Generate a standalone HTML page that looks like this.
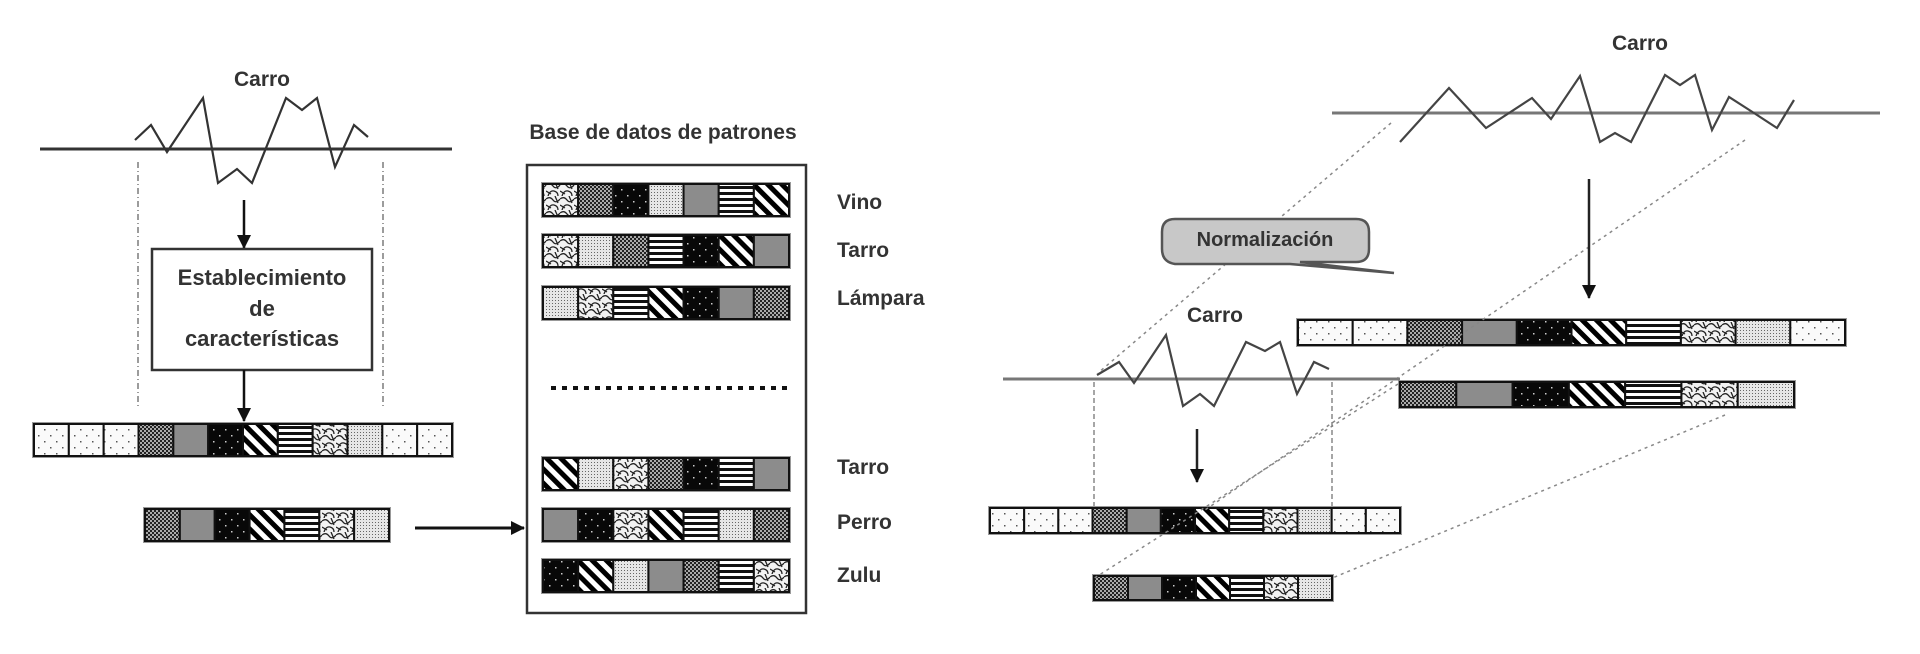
<!DOCTYPE html>
<html><head><meta charset="utf-8"><style>
html,body{margin:0;padding:0;background:#fff;}
svg{display:block;}
text{font-family:"Liberation Sans Narrow","Liberation Sans",sans-serif;font-weight:bold;fill:#333;}
</style></head><body>
<svg id="s" width="1920" height="654" viewBox="0 0 1920 654" xmlns="http://www.w3.org/2000/svg">
<defs>
<pattern id="pd" width="12" height="12" patternUnits="userSpaceOnUse"><rect width="12" height="12" fill="#fafafa"/><rect x="2" y="3" width="1.5" height="1.5" fill="#555"/><rect x="8" y="9" width="1.5" height="1.5" fill="#555"/></pattern>
<pattern id="pk" width="4" height="4" patternUnits="userSpaceOnUse"><rect width="4" height="4" fill="#aaa"/><rect width="2" height="2" fill="#222"/><rect x="2" y="2" width="2" height="2" fill="#222"/></pattern>
<pattern id="pg" width="4" height="4" patternUnits="userSpaceOnUse"><rect width="4" height="4" fill="#8c8c8c"/></pattern>
<pattern id="pb" width="12" height="12" patternUnits="userSpaceOnUse"><rect width="12" height="12" fill="#080808"/><rect x="3" y="3" width="1.5" height="1.5" fill="#ccc"/><rect x="9" y="9" width="1.5" height="1.5" fill="#ccc"/></pattern>
<pattern id="ps" width="10" height="10" patternUnits="userSpaceOnUse" patternTransform="rotate(-45)"><rect width="10" height="10" fill="#fff"/><rect width="5" height="10" fill="#000"/></pattern>
<pattern id="ph" width="6" height="6" patternUnits="userSpaceOnUse"><rect width="6" height="6" fill="#fff"/><rect width="6" height="3" fill="#111"/></pattern>
<pattern id="pc" width="14" height="14" patternUnits="userSpaceOnUse"><rect width="14" height="14" fill="#f2f2f2"/><path d="M0 3 Q4 0 7 4 T14 3 M2 14 Q4 8 8 9 T12 14 M0 9 L5 12 M9 0 L12 7" stroke="#222" stroke-width="1.3" fill="none"/></pattern>
<pattern id="pf" width="3" height="3" patternUnits="userSpaceOnUse"><rect width="3" height="3" fill="#e6e6e6"/><rect width="1" height="1" fill="#666"/></pattern>
<marker id="ah" markerWidth="14" markerHeight="14" refX="13" refY="7" orient="auto" markerUnits="userSpaceOnUse"><path d="M0 0 L14 7 L0 14 Z" fill="#111"/></marker>
</defs>
<g id="bars"></g>

<!-- LEFT -->
<text x="262" y="86" font-size="21" text-anchor="middle">Carro</text>
<line x1="40" y1="149" x2="452" y2="149" stroke="#333" stroke-width="3"/>
<polyline points="135,140 151,125 167,152 203,98 218,183 237,169 252,183 286,98 302,110 317,98 335,167 354,125 368,137" fill="none" stroke="#333" stroke-width="2.2"/>
<line x1="138" y1="162" x2="138" y2="406" stroke="#666" stroke-width="1.3" stroke-dasharray="6,3,1,3"/>
<line x1="383" y1="162" x2="383" y2="406" stroke="#666" stroke-width="1.3" stroke-dasharray="6,3,1,3"/>
<line x1="244" y1="200" x2="244" y2="248" stroke="#111" stroke-width="2.5" marker-end="url(#ah)"/>
<rect x="152" y="249" width="220" height="121" fill="#fff" stroke="#333" stroke-width="2.5"/>
<text x="262" y="285" font-size="22" text-anchor="middle">Establecimiento</text>
<text x="262" y="316" font-size="22" text-anchor="middle">de</text>
<text x="262" y="346" font-size="22" text-anchor="middle">características</text>
<line x1="244" y1="370" x2="244" y2="421" stroke="#111" stroke-width="2.5" marker-end="url(#ah)"/>
<line x1="415" y1="528" x2="524" y2="528" stroke="#111" stroke-width="3" marker-end="url(#ah)"/>
<text x="663" y="139" font-size="21" text-anchor="middle">Base de datos de patrones</text>
<rect x="527" y="165" width="279" height="448" fill="none" stroke="#333" stroke-width="2.5"/>
<line x1="551" y1="388" x2="789" y2="388" stroke="#111" stroke-width="4" stroke-dasharray="5,6"/>
<text x="837" y="209" font-size="21">Vino</text>
<text x="837" y="257" font-size="21">Tarro</text>
<text x="837" y="305" font-size="21">Lámpara</text>
<text x="837" y="474" font-size="21">Tarro</text>
<text x="837" y="529" font-size="21">Perro</text>
<text x="837" y="582" font-size="21">Zulu</text>

<!-- RIGHT -->
<text x="1640" y="50" font-size="21" text-anchor="middle">Carro</text>
<line x1="1332" y1="113" x2="1880" y2="113" stroke="#777" stroke-width="3"/>
<polyline points="1400,142 1449,88 1486,128 1532,98 1551,119 1580,76 1600,142 1615,133 1631,142 1665,75 1680,85 1695,75 1712,130 1729,97 1754,113 1777,128 1794,100" fill="none" stroke="#444" stroke-width="2.2"/>
<g stroke="#888" stroke-width="1.5" stroke-dasharray="3,4" fill="none">
<line x1="1391" y1="123" x2="1098" y2="373"/>
<line x1="1745" y1="140" x2="1205" y2="510"/>
<line x1="1398" y1="384" x2="1093" y2="579"/>
<line x1="1725" y1="415" x2="1330" y2="579"/>
</g>
<line x1="1589" y1="179" x2="1589" y2="298" stroke="#222" stroke-width="2.5" marker-end="url(#ah)"/>
<path d="M1175 219 H1356 Q1369 219 1369 232 V249 Q1369 262 1356 262 H1300 L1394 273 L1290 264 H1175 Q1162 262 1162 249 V232 Q1162 219 1175 219 Z" fill="#c8c8c8" stroke="#555" stroke-width="2.5"/>
<text x="1265" y="246" font-size="20" text-anchor="middle">Normalización</text>
<text x="1215" y="322" font-size="21" text-anchor="middle">Carro</text>
<line x1="1003" y1="379" x2="1400" y2="379" stroke="#777" stroke-width="3"/>
<polyline points="1097,375 1119,362 1134,383 1166,335 1183,406 1200,394 1214,406 1246,342 1265,351 1280,342 1297,394 1314,362 1329,369" fill="none" stroke="#444" stroke-width="2.2"/>
<line x1="1094" y1="382" x2="1094" y2="506" stroke="#777" stroke-width="1.3" stroke-dasharray="5,3"/>
<line x1="1332" y1="382" x2="1332" y2="506" stroke="#777" stroke-width="1.3" stroke-dasharray="5,3"/>
<line x1="1197" y1="429" x2="1197" y2="482" stroke="#222" stroke-width="2.5" marker-end="url(#ah)"/>
</svg>
<script>
var g=document.getElementById('bars'),NS="http://www.w3.org/2000/svg";
function bar(x,y,w,h,cells){
  var r=document.createElementNS(NS,'rect');
  r.setAttribute('x',x-2);r.setAttribute('y',y-2);r.setAttribute('width',w+4);r.setAttribute('height',h+4);
  r.setAttribute('fill','#999');g.appendChild(r);
  var cw=w/cells.length;
  for(var i=0;i<cells.length;i++){
    var c=document.createElementNS(NS,'rect');
    c.setAttribute('x',x+i*cw);c.setAttribute('y',y);c.setAttribute('width',cw);c.setAttribute('height',h);
    c.setAttribute('fill','url(#p'+cells[i]+')');c.setAttribute('stroke','#111');c.setAttribute('stroke-width','2');
    g.appendChild(c);
  }
}
var L12="dddkgbshcfdd".split(''),S7="kgbshcf".split('');
bar(34,424,418,32,L12);
bar(145,509,244,32,S7);
bar(543,184,246,32,"ckbfghs".split(''));
bar(543,235,246,32,"cfkhbsg".split(''));
bar(543,287,246,32,"fchsbgk".split(''));
bar(543,458,246,32,"sfckbhg".split(''));
bar(543,509,246,32,"gbcshfk".split(''));
bar(543,560,246,32,"bsfgkhc".split(''));
bar(1298,320,547,25,"ddkgbshcfd".split(''));
bar(1400,382,394,25,S7);
bar(990,508,410,25,L12);
bar(1094,576,238,24,S7);
</script>
</body></html>
